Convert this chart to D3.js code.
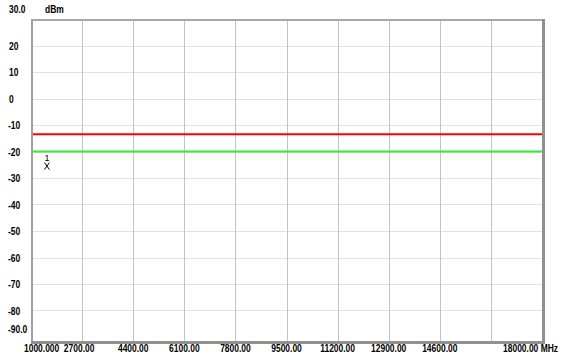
<!DOCTYPE html>
<html>
<head>
<meta charset="utf-8">
<script src="https://cdn.jsdelivr.net/npm/d3@7/dist/d3.min.js"></script>
<style>
  html, body { margin: 0; padding: 0; background: #fff; }
  svg { display: block; }
  text { font-family: "Liberation Sans", Arial, sans-serif; font-size: 11px; font-weight: bold; fill: #000; }
</style>
</head>
<body>
<svg id="chart" width="562" height="354"></svg>
<script>
// Frequency axis (MHz): start, stop and the labelled division lines
const freqTicks = [1000, 2700, 4400, 6100, 7800, 9500, 11200, 12900, 14600, 16300, 18000];
const freqLabels = ["1000.000", "2700.00", "4400.00", "6100.00", "7800.00", "9500.00", "11200.00", "12900.00", "14600.00", "", "18000.00 MHz"];

// Level axis (dBm)
const levelTicks = [30, 20, 10, 0, -10, -20, -30, -40, -50, -60, -70, -80, -90];
const levelLabels = ["30.0", "20", "10", "0", "-10", "-20", "-30", "-40", "-50", "-60", "-70", "-80", "-90.0"];

// Limit lines (dBm) across the full span
const limitLines = [
  { name: "limit", level: -13.5, color: "#ff0000" },
  { name: "threshold", level: -20, color: "#33ee33" }
];

// Marker 1
const markers = [{ id: "1", freq: 1530, level: -25.5 }];

const svg = d3.select("#chart");
const plotLeft = 31, plotRight = 542, plotTop = 19, plotBottom = 337, frameBottom = 341;
const squeeze = 0.77; // condensed look of the instrument font

const x = d3.scaleLinear().domain([1000, 18000]).range([plotLeft, plotRight]);
const y = d3.scaleLinear().domain([30, -90]).range([plotTop, plotBottom]);

// Place a text at (px, py) with horizontal compression
function placeText(sel, px, py) {
  sel.attr("transform", (d, i) => `translate(${px(d, i)},${py(d, i)}) scale(${squeeze},1)`);
}

// Horizontal division lines
svg.append("g").selectAll("line").data(levelTicks.slice(1, -1)).join("line")
  .attr("x1", plotLeft).attr("x2", plotRight)
  .attr("y1", d => Math.round(y(d)) + 0.5).attr("y2", d => Math.round(y(d)) + 0.5)
  .attr("stroke", "#e2e2e2").attr("stroke-width", 1);

// Vertical division lines
svg.append("g").selectAll("line").data(freqTicks.slice(1, -1)).join("line")
  .attr("x1", d => Math.round(x(d)) + 0.5).attr("x2", d => Math.round(x(d)) + 0.5)
  .attr("y1", plotTop).attr("y2", frameBottom)
  .attr("stroke", "#c4c4c4").attr("stroke-width", 1);

// Frame: light top/left edges, heavier right/bottom edges
const frame = svg.append("g");
frame.append("line").attr("x1", plotLeft).attr("x2", plotRight + 1).attr("y1", plotTop + 1).attr("y2", plotTop + 1)
  .attr("stroke", "#a8a8a8").attr("stroke-width", 2);
frame.append("line").attr("x1", plotLeft + 1).attr("x2", plotLeft + 1).attr("y1", plotTop).attr("y2", frameBottom + 1)
  .attr("stroke", "#a0a0a0").attr("stroke-width", 2);
frame.append("line").attr("x1", plotRight + 1.5).attr("x2", plotRight + 1.5).attr("y1", plotTop).attr("y2", frameBottom + 3)
  .attr("stroke", "#909090").attr("stroke-width", 3);
frame.append("line").attr("x1", plotLeft).attr("x2", plotRight + 3).attr("y1", frameBottom + 1.5).attr("y2", frameBottom + 1.5)
  .attr("stroke", "#909090").attr("stroke-width", 3);

// Limit lines
svg.append("g").selectAll("line").data(limitLines).join("line")
  .attr("x1", x(1000) + 2).attr("x2", x(18000))
  .attr("y1", d => y(d.level)).attr("y2", d => y(d.level))
  .attr("stroke", d => d.color).attr("stroke-width", 2);

// Marker glyphs: cross at the marker point, index above it
const mk = svg.append("g").selectAll("g").data(markers).join("g")
  .attr("transform", d => `translate(${x(d.freq)},${y(d.level)})`);
mk.append("path")
  .attr("d", "M-2.5,-3.5L2.5,3.5M2.5,-3.5L-2.5,3.5")
  .attr("fill", "none").attr("stroke", "#000").attr("stroke-width", 1);
mk.append("text").attr("text-anchor", "middle").attr("y", -5)
  .style("font-weight", "normal").style("font-size", "9px").text(d => d.id);

// Level labels
svg.append("g").selectAll("text").data(levelTicks).join("text")
  .call(placeText,
    (d, i) => levelLabels[i].startsWith("-") ? 8 : 9,
    (d, i) => i === 0 ? 13 : i === levelTicks.length - 1 ? 333 : y(d) + 4)
  .text((d, i) => levelLabels[i]);

// Unit label
svg.append("text").call(placeText, () => 45, () => 13).text("dBm");

// Frequency labels
svg.append("g").selectAll("text").data(freqTicks).join("text")
  .call(placeText,
    (d, i) => i === 0 ? x(d) - 7 : i === freqTicks.length - 1 ? 558 : x(d) - (i === 1 ? 3 : 0),
    () => 352)
  .attr("text-anchor", (d, i) => i === 0 ? "start" : i === freqTicks.length - 1 ? "end" : "middle")
  .text((d, i) => freqLabels[i]);
</script>
</body>
</html>
